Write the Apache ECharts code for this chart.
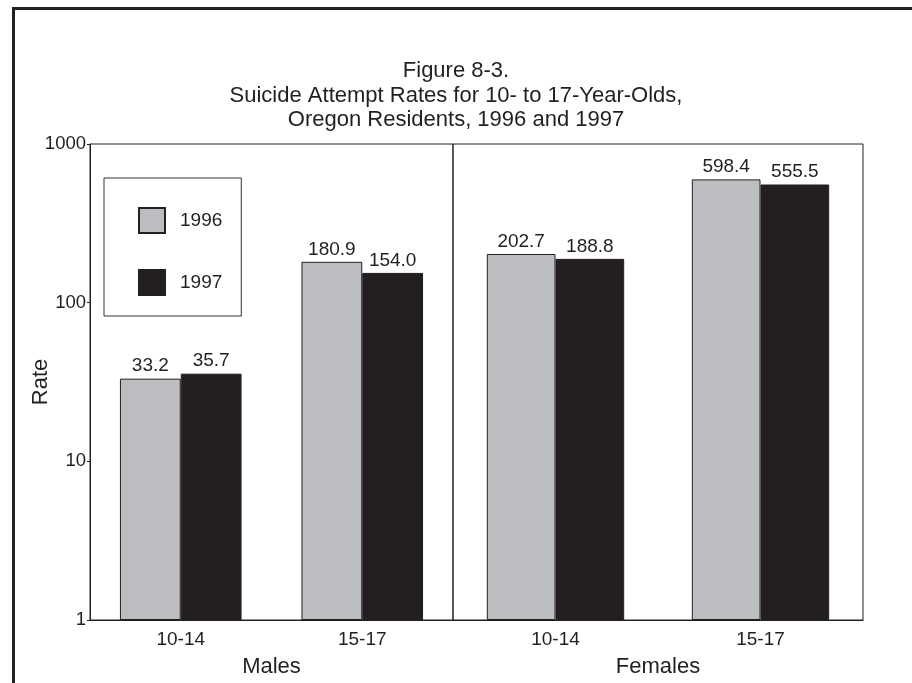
<!DOCTYPE html>
<html>
<head>
<meta charset="utf-8">
<script src="https://cdn.jsdelivr.net/npm/echarts@6/dist/echarts.min.js"></script>
<style>
  html, body { margin: 0; padding: 0; background: #fff; }
  #chart { width: 912px; height: 683px; }
</style>
</head>
<body>
<div id="chart"></div>
<script>
// ---- data ----
var categories = ['10-14', '15-17'];
var groupNames = ['Males', 'Females'];
var seriesNames = ['1996', '1997'];
var males1996 = [33.2, 180.9];
var males1997 = [35.7, 154.0];
var females1996 = [202.7, 598.4];
var females1997 = [188.8, 555.5];
var yTicks = [1, 10, 100, 1000];
var titleLines = ['Figure 8-3.', 'Suicide Attempt Rates for 10- to 17-Year-Olds,', 'Oregon Residents, 1996 and 1997'];

var FONT = '"Liberation Sans", Arial, Helvetica, sans-serif';
var INK = '#231f20';
var GRAY = '#bcbdc1';

var chart = echarts.init(document.getElementById('chart'), null, { renderer: 'canvas' });

function barLabel() {
  return {
    show: true, position: 'top', distance: 3,
    fontFamily: FONT, fontSize: 19, color: INK,
    formatter: function (p) { return Number(p.value).toFixed(1); }
  };
}
function makeSeries(name, data, idx, color) {
  return {
    type: 'bar', name: name, data: data,
    xAxisIndex: idx, yAxisIndex: idx,
    barGap: '0%', barCategoryGap: '33%',
    itemStyle: { color: color, borderColor: INK, borderWidth: 1 },
    label: barLabel(),
    emphasis: { disabled: true },
    animation: false
  };
}
function xAxisFor(idx, name) {
  return {
    type: 'category', gridIndex: idx, data: categories,
    name: name, nameLocation: 'middle', nameGap: 36, nameMoveOverlap: false,
    nameTextStyle: { fontFamily: FONT, fontSize: 22, color: INK },
    axisLine: { show: true, lineStyle: { color: INK, width: 1 } },
    axisTick: { show: false },
    axisLabel: { fontFamily: FONT, fontSize: 19, color: INK, margin: 10 },
    splitLine: { show: false }
  };
}
function yAxisFor(idx, visible) {
  return {
    type: 'log', logBase: 10, gridIndex: idx, min: 1, max: 1000,
    name: visible ? 'Rate' : '', nameLocation: 'middle', nameGap: 38, nameMoveOverlap: false,
    nameRotate: 90,
    nameTextStyle: { fontFamily: FONT, fontSize: 22, color: INK },
    axisLine: { show: visible, lineStyle: { color: INK, width: 1 } },
    axisTick: { show: visible, length: 3, lineStyle: { color: INK } },
    axisLabel: {
      show: visible, fontFamily: FONT, fontSize: 18.5, color: INK, margin: 4,
      formatter: function (v) { return yTicks.indexOf(Math.round(v)) >= 0 ? String(Math.round(v)) : ''; }
    },
    splitLine: { show: false }
  };
}

var titleGraphics = titleLines.map(function (t, i) {
  return {
    type: 'text', silent: true,
    x: 456, y: 71 + i * 24.5,
    style: { text: t, fontFamily: FONT, fontSize: 22, fill: INK, align: 'center', verticalAlign: 'middle' }
  };
});

var option = {
  backgroundColor: '#fff',
  animation: false,
  legend: {
    orient: 'vertical', left: 104, top: 178,
    padding: [29, 19, 20, 34],
    borderColor: '#333', borderWidth: 1,
    itemWidth: 26, itemHeight: 25, itemGap: 35,
    icon: 'rect',
    data: seriesNames,
    textStyle: { fontFamily: FONT, fontSize: 19, color: INK, padding: [0, 0, 0, 10] },
    selectedMode: false
  },
  grid: [
    { left: 90, right: 912 - 453, top: 144, bottom: 62, show: true, borderColor: INK, borderWidth: 1, containLabel: false },
    { left: 453, right: 912 - 863, top: 144, bottom: 62, show: true, borderColor: INK, borderWidth: 1, containLabel: false }
  ],
  xAxis: [xAxisFor(0, groupNames[0]), xAxisFor(1, groupNames[1])],
  yAxis: [yAxisFor(0, true), yAxisFor(1, false)],
  series: [
    makeSeries(seriesNames[0], males1996, 0, GRAY),
    makeSeries(seriesNames[1], males1997, 0, INK),
    makeSeries(seriesNames[0], females1996, 1, GRAY),
    makeSeries(seriesNames[1], females1997, 1, INK)
  ],
  graphic: titleGraphics.concat([
    { type: 'rect', silent: true, z: 100,
      shape: { x: 13.5, y: 8.5, width: 920, height: 720 },
      style: { fill: 'none', stroke: INK, lineWidth: 3 } }
  ])
};
chart.setOption(option);
</script>
</body>
</html>
